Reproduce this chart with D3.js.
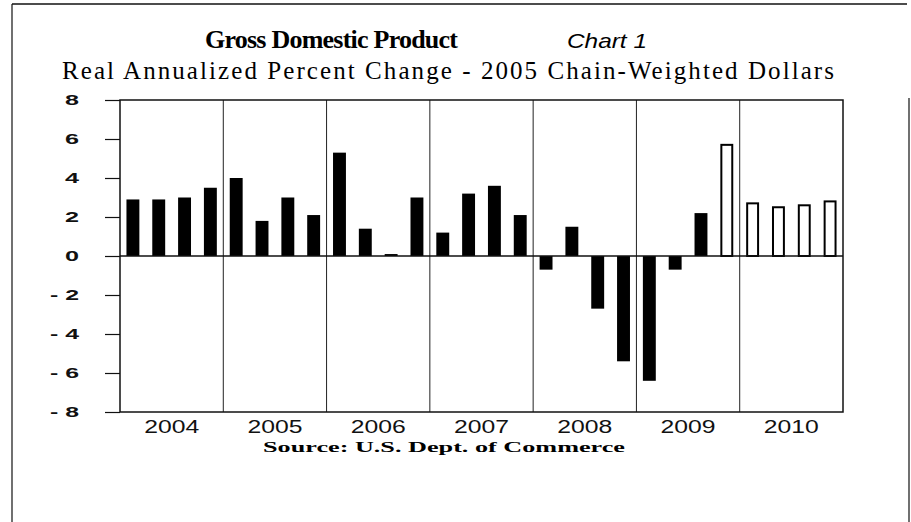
<!DOCTYPE html>
<html>
<head>
<meta charset="utf-8">
<script src="https://cdn.jsdelivr.net/npm/d3@7"></script>
<style>
  body { margin: 0; background: #fff; }
  svg { display: block; }
</style>
</head>
<body>
<div id="chart"></div>
<script>
// quarterly real GDP, annualized % change
const years = ["2004", "2005", "2006", "2007", "2008", "2009", "2010"];
const quarters = ["Q1", "Q2", "Q3", "Q4"];
const gdpValues = [
  2.9, 2.9, 3.0, 3.5,
  4.0, 1.8, 3.0, 2.1,
  5.3, 1.4, 0.1, 3.0,
  1.2, 3.2, 3.6, 2.1,
  -0.7, 1.5, -2.7, -5.4,
  -6.4, -0.7, 2.2, 5.7,
  2.7, 2.5, 2.6, 2.8
];
// forecast quarters drawn hollow
const forecastFrom = 23;
const yTicks = [8, 6, 4, 2, 0, -2, -4, -6, -8];

const width = 911, height = 522;
const margin = { top: 100, right: 68, bottom: 110, left: 120 };

const svg = d3.select("#chart").append("svg")
  .attr("width", width)
  .attr("height", height);

const data = gdpValues.map((v, i) => ({
  key: years[Math.floor(i / 4)] + quarters[i % 4],
  value: v,
  forecast: i >= forecastFrom
}));

const xYear = d3.scaleBand()
  .domain(years)
  .range([margin.left, width - margin.right]);

const xQ = d3.scaleBand()
  .domain(data.map(d => d.key))
  .range([margin.left, width - margin.right])
  .paddingInner(0.5)
  .paddingOuter(0.25);

const y = d3.scaleLinear()
  .domain([-8, 8])
  .range([height - margin.bottom, margin.top]);

// page frame
svg.append("line").attr("x1", 12).attr("x2", 907).attr("y1", 4).attr("y2", 4)
  .attr("stroke", "#111").attr("stroke-width", 1.5);
svg.append("line").attr("x1", 12).attr("x2", 12).attr("y1", 4).attr("y2", height)
  .attr("stroke", "#111").attr("stroke-width", 1.2);
svg.append("line").attr("x1", 909).attr("x2", 909).attr("y1", 98).attr("y2", height)
  .attr("stroke", "#111").attr("stroke-width", 1.2);

// titles
svg.append("text")
  .attr("x", 205).attr("y", 48)
  .attr("font-family", "Liberation Serif, serif")
  .attr("font-weight", "bold")
  .attr("font-size", 26)
  .attr("textLength", 253)
  .attr("lengthAdjust", "spacing")
  .text("Gross Domestic Product");

svg.append("text")
  .attr("x", 567).attr("y", 48)
  .attr("font-family", "Liberation Sans, Arial, sans-serif")
  .attr("font-style", "italic")
  .attr("font-size", 21)
  .attr("textLength", 80)
  .attr("lengthAdjust", "spacingAndGlyphs")
  .text("Chart 1");

svg.append("text")
  .attr("x", 62).attr("y", 79)
  .attr("font-family", "Liberation Serif, serif")
  .attr("font-size", 25)
  .attr("textLength", 772)
  .attr("lengthAdjust", "spacing")
  .text("Real Annualized Percent Change - 2005 Chain-Weighted Dollars");

// y axis
const yAxis = d3.axisLeft(y)
  .tickValues(yTicks)
  .tickSize(15)
  .tickPadding(26)
  .tickFormat(d => d < 0 ? "- " + Math.abs(d) : d);

const gy = svg.append("g")
  .attr("transform", `translate(${margin.left},0)`)
  .call(yAxis);
gy.select(".domain").remove();
gy.selectAll(".tick line").attr("stroke", "#111").attr("stroke-width", 1.2);
gy.selectAll(".tick text")
  .attr("font-family", "Liberation Sans, Arial, sans-serif")
  .attr("font-weight", "bold")
  .attr("font-size", 15)
  .attr("fill", "#111")
  .attr("textLength", d => d < 0 ? 29 : 14)
  .attr("lengthAdjust", "spacingAndGlyphs");

// year separators
svg.append("g").selectAll("line")
  .data(years.slice(1))
  .join("line")
  .attr("x1", d => xYear(d)).attr("x2", d => xYear(d))
  .attr("y1", y(8)).attr("y2", y(-8))
  .attr("stroke", "#222").attr("stroke-width", 1);

// plot box
svg.append("rect")
  .attr("x", margin.left).attr("y", y(8))
  .attr("width", width - margin.right - margin.left)
  .attr("height", y(-8) - y(8))
  .attr("fill", "none")
  .attr("stroke", "#111").attr("stroke-width", 1.5);

// bars
svg.append("g").selectAll("rect")
  .data(data)
  .join("rect")
  .attr("x", d => xQ(d.key) + (d.forecast ? 1 : 0))
  .attr("width", d => xQ.bandwidth() - (d.forecast ? 2 : 0))
  .attr("y", d => y(Math.max(0, d.value)))
  .attr("height", d => Math.abs(y(d.value) - y(0)))
  .attr("fill", d => d.forecast ? "#fff" : "#000")
  .attr("stroke", d => d.forecast ? "#000" : "none")
  .attr("stroke-width", 2);

// zero line
svg.append("line")
  .attr("x1", margin.left).attr("x2", width - margin.right)
  .attr("y1", y(0)).attr("y2", y(0))
  .attr("stroke", "#111").attr("stroke-width", 1.5);

// x axis labels
const xAxis = d3.axisBottom(xYear).tickSize(0).tickPadding(8);
const gx = svg.append("g")
  .attr("transform", `translate(0,${y(-8)})`)
  .call(xAxis);
gx.select(".domain").remove();
gx.selectAll(".tick text")
  .attr("font-family", "Liberation Sans, Arial, sans-serif")
  .attr("font-size", 18)
  .attr("fill", "#111")
  .attr("textLength", 55)
  .attr("lengthAdjust", "spacingAndGlyphs");

svg.append("text")
  .attr("x", 263).attr("y", 452)
  .attr("font-family", "Liberation Serif, serif")
  .attr("font-weight", "bold")
  .attr("font-size", 15)
  .attr("textLength", 362)
  .attr("lengthAdjust", "spacingAndGlyphs")
  .text("Source: U.S. Dept. of Commerce");
</script>
</body>
</html>
